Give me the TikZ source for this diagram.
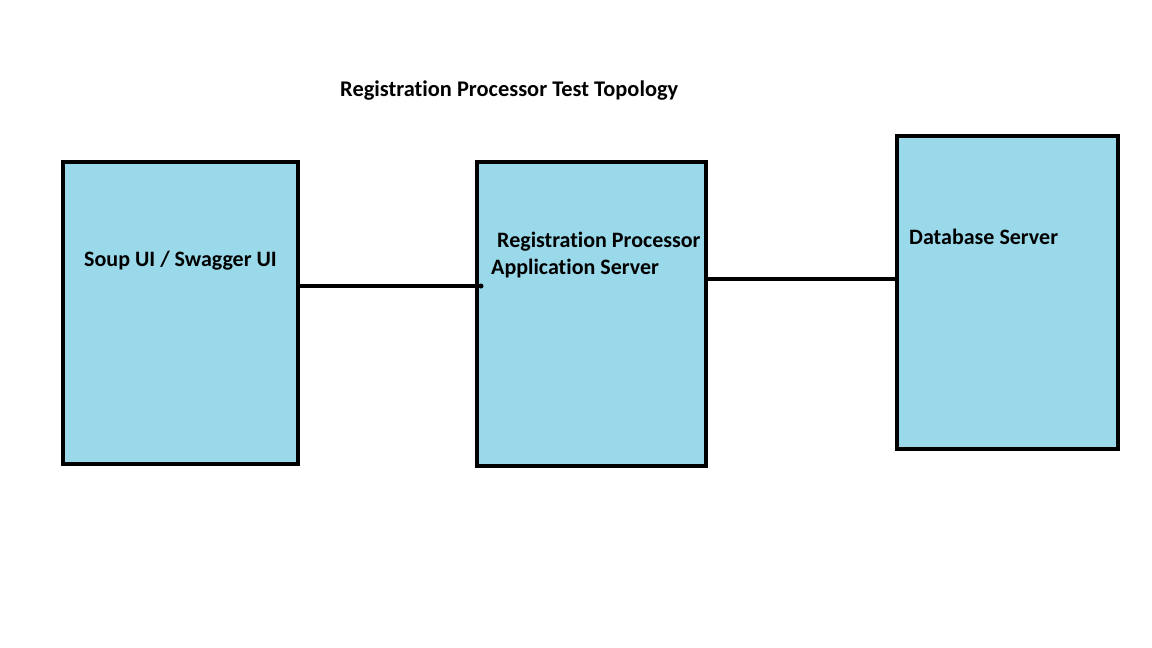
\documentclass[tikz,border=0pt]{standalone}
\usepackage{fontspec}
\setmainfont{Carlito}[Ligatures=NoCommon]
\definecolor{boxblue}{RGB}{153,217,234}
\begin{document}
\begin{tikzpicture}[x=1pt,y=-1pt,
  srv/.style={draw=black,fill=boxblue,line width=4pt},
  lbl/.style={anchor=west,inner sep=0pt,font=\fontsize{22}{26}\selectfont\bfseries},
  wire/.style={line width=4pt}]
\useasboundingbox (0,0) rectangle (1152,648);
\draw[srv] (63,162) rectangle (298,464);
\draw[srv] (477,162) rectangle (706,466);
\draw[srv] (897,136) rectangle (1118,449);
\coordinate (b1e) at (298,286);
\coordinate (b2w) at (481,286);
\coordinate (b2e) at (706,279);
\coordinate (b3w) at (897,279);
\draw[wire] (b1e) -- (b2w);
\fill (b2w) circle (2.5pt);
\draw[wire] (b2e) -- (b3w);
\node[lbl,font=\fontsize{22.4}{26}\selectfont\bfseries] (title) at (340,91) {Registration Processor Test Topology};
\node[lbl] (soup) at (84,261) {Soup UI / Swagger UI};
\node[lbl] (rp1) at (497,242) {Registration Processor};
\node[lbl] (rp2) at (491,269) {Application Server};
\node[lbl] (db) at (909,237) {Database Server};
\end{tikzpicture}
\end{document}
